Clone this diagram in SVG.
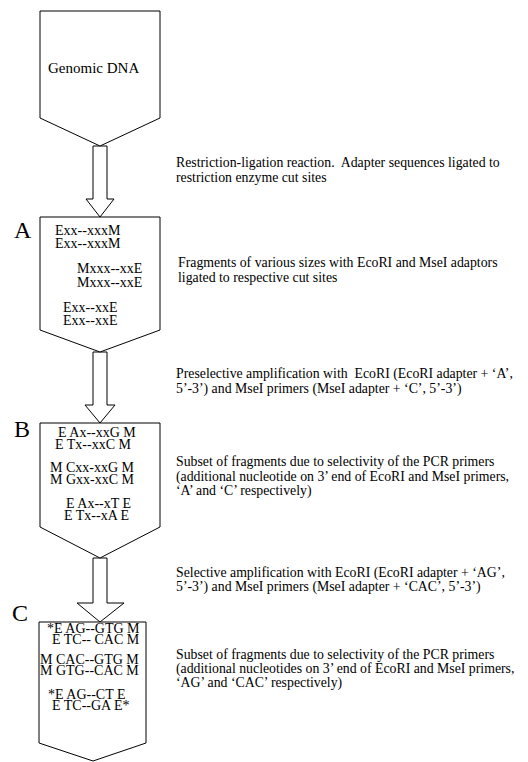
<svg xmlns="http://www.w3.org/2000/svg" width="528" height="762" viewBox="0 0 528 762">
<style>
.shape{fill:#fff;stroke:#000;stroke-width:1}
.arrow{fill:#fff;stroke:#000;stroke-width:1}
text{font-family:"Liberation Serif","Times New Roman",serif;fill:#000}
.big{font-size:15px}
.seq{font-size:14px}
.note{font-size:13.8px}
.letter{font-size:24px}
</style>
<rect width="528" height="762" fill="#fff"/>
<g id="connectors">
<polygon class="arrow" points="93,146 107,146 107,199 114,199 100,217 86,199 93,199"/>
<polygon class="arrow" points="93,352 107,352 107,405 115,405 100,423 85,405 93,405"/>
<polygon class="arrow" points="93,558 107,558 107,603 124,603 100,622 77,603 93,603"/>
</g>
<g id="genomic">
<polygon class="shape" points="40,11 160,11 160,118 100,146 40,118"/>
<text class="big" x="48" y="73">Genomic DNA</text>
</g>
<g id="boxA">
<polygon class="shape" points="40,217 160,217 160,330 100,352 40,330"/>
<text class="letter" x="14" y="238">A</text>
<text class="seq" x="55" y="235">Exx--xxxM</text>
<text class="seq" x="55" y="248">Exx--xxxM</text>
<text class="seq" x="77" y="273">Mxxx--xxE</text>
<text class="seq" x="77" y="287">Mxxx--xxE</text>
<text class="seq" x="63" y="312">Exx--xxE</text>
<text class="seq" x="63" y="325">Exx--xxE</text>
</g>
<g id="boxB">
<polygon class="shape" points="40,423 160,423 160,527 100,558 40,527"/>
<text class="letter" x="14" y="437">B</text>
<text class="seq" x="58" y="437">E Ax--xxG M</text>
<text class="seq" x="55" y="449">E Tx--xxC M</text>
<text class="seq" x="50" y="472">M Cxx-xxG M</text>
<text class="seq" x="50" y="484">M Gxx-xxC M</text>
<text class="seq" x="66" y="508">E Ax--xT E</text>
<text class="seq" x="64" y="520">E Tx--xA E</text>
</g>
<g id="boxC">
<polygon class="shape" points="39,622 146,622 146,743 93,761 39,743"/>
<text class="letter" x="12" y="621">C</text>
<text class="seq" x="47" y="633">*E AG--GTG M</text>
<text class="seq" x="52" y="644" xml:space="preserve">E TC-- CAC M</text>
<text class="seq" x="40" y="664">M CAC--GTG M</text>
<text class="seq" x="40" y="675">M GTG--CAC M</text>
<text class="seq" x="48" y="699">*E AG--CT E</text>
<text class="seq" x="52" y="710">E TC--GA E*</text>
</g>
<g id="step1">
<text class="note" x="176" y="167" xml:space="preserve">Restriction-ligation reaction.  Adapter sequences ligated to</text>
<text class="note" x="176" y="182">restriction enzyme cut sites</text>
</g>
<g id="stepA">
<text class="note" x="178" y="267">Fragments of various sizes with EcoRI and MseI adaptors</text>
<text class="note" x="178" y="282">ligated to respective cut sites</text>
</g>
<g id="step2">
<text class="note" x="176" y="378" xml:space="preserve">Preselective amplification with  EcoRI (EcoRI adapter + ‘A’,</text>
<text class="note" x="176" y="393">5’-3’) and MseI primers (MseI adapter + ‘C’, 5’-3’)</text>
</g>
<g id="stepB">
<text class="note" x="176" y="466">Subset of fragments due to selectivity of the PCR primers</text>
<text class="note" x="176" y="481">(additional nucleotide on 3’ end of EcoRI and MseI primers,</text>
<text class="note" x="176" y="495">‘A’ and ‘C’ respectively)</text>
</g>
<g id="step3">
<text class="note" x="176" y="577">Selective amplification with EcoRI (EcoRI adapter + ‘AG’,</text>
<text class="note" x="176" y="591">5’-3’) and MseI primers (MseI adapter + ‘CAC’, 5’-3’)</text>
</g>
<g id="stepC">
<text class="note" x="176" y="659">Subset of fragments due to selectivity of the PCR primers</text>
<text class="note" x="176" y="673">(additional nucleotides on 3’ end of EcoRI and MseI primers,</text>
<text class="note" x="176" y="687">‘AG’ and ‘CAC’ respectively)</text>
</g>
</svg>
